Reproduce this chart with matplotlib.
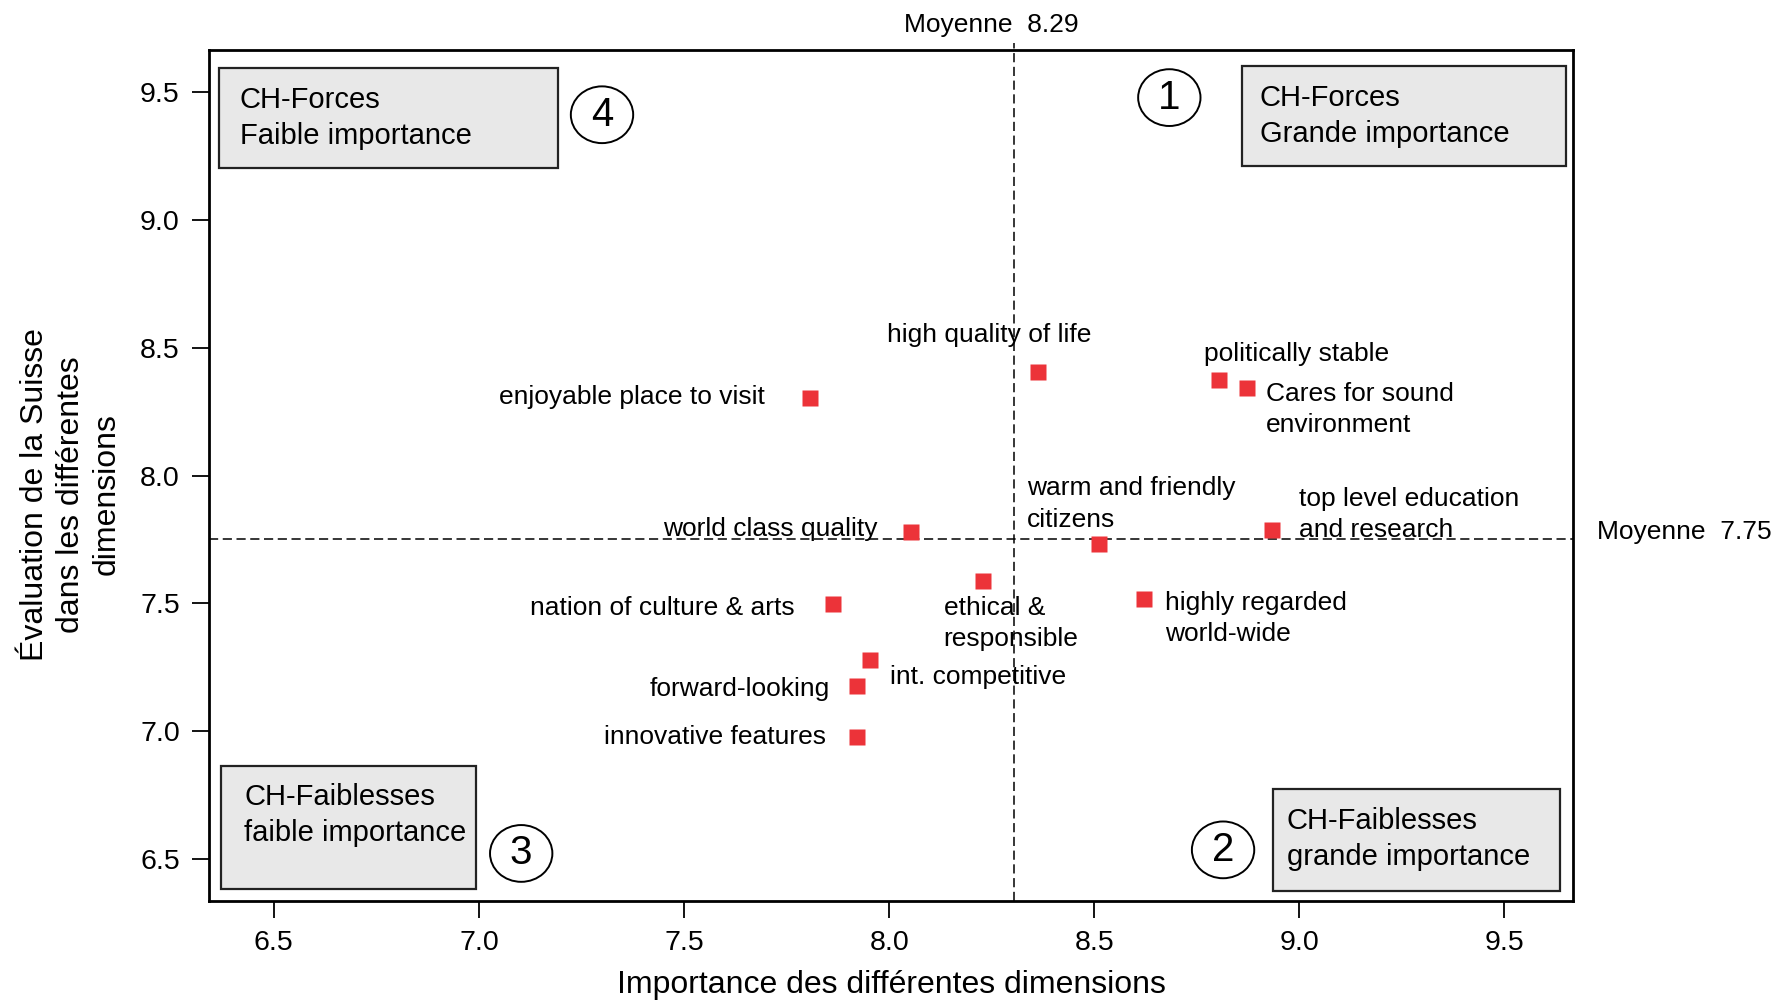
import matplotlib
matplotlib.use("Agg")
import matplotlib.pyplot as plt
from matplotlib.patches import Rectangle, Ellipse

plt.rcParams['font.family'] = ['Liberation Sans', 'DejaVu Sans']

# ---- data ----
labels = ["enjoyable place to visit", "high quality of life", "politically stable",
          "Cares for sound\nenvironment", "top level education\nand research",
          "warm and friendly\ncitizens", "world class quality", "ethical &\nresponsible",
          "highly regarded\nworld-wide", "nation of culture & arts", "int. competitive",
          "forward-looking", "innovative features"]
importance = [7.806, 8.364, 8.803, 8.872, 8.933, 8.511, 8.053, 8.228, 8.622, 7.864, 7.953, 7.922, 7.922]
evaluation = [8.302, 8.404, 8.373, 8.342, 7.787, 7.733, 7.778, 7.589, 7.518, 7.496, 7.278, 7.176, 6.976]

mean_importance = 8.305
mean_evaluation = 7.75
mean_importance_label = "Moyenne  8.29"
mean_evaluation_label = "Moyenne  7.75"

xticks = [6.5, 7.0, 7.5, 8.0, 8.5, 9.0, 9.5]
yticks = [6.5, 7.0, 7.5, 8.0, 8.5, 9.0, 9.5]

# label placement (text anchor, alignment)
label_pos = [
    (7.697, 8.307, 'right'),
    (7.994, 8.551, 'left'),
    (8.767, 8.476, 'left'),
    (8.919, 8.258, 'left'),
    (9.000, 7.849, 'left'),
    (8.336, 7.889, 'left'),
    (7.972, 7.791, 'right'),
    (8.133, 7.422, 'left'),
    (8.672, 7.442, 'left'),
    (7.769, 7.483, 'right'),
    (8.003, 7.211, 'left'),
    (7.856, 7.167, 'right'),
    (7.847, 6.978, 'right'),
]

quadrant_texts = ["CH-Forces\nGrande importance", "CH-Faiblesses\ngrande importance",
                  "CH-Faiblesses\nfaible importance", "CH-Forces\nFaible importance"]
quadrant_numbers = ["1", "2", "3", "4"]
quad_boxes = [(8.861, 9.211, 9.650, 9.602), (8.936, 6.376, 9.636, 6.773),
              (6.372, 6.384, 6.994, 6.864), (6.367, 9.202, 7.192, 9.593)]
quad_text_xy = [(8.903, 9.405), (8.969, 6.578), (6.428, 6.672), (6.417, 9.400)]
circle_xy = [(8.683, 9.478), (8.814, 6.536), (7.103, 6.522), (7.300, 9.411)]

fig = plt.figure(figsize=(17.82, 10.01), dpi=100)
ax = fig.add_axes([0.1173, 0.0999, 0.7654, 0.8501])
ax.set_xlim(6.342, 9.667)
ax.set_ylim(6.336, 9.664)

for s in ax.spines.values():
    s.set_linewidth(2.0)
    s.set_color('black')

ax.set_xticks(xticks)
ax.set_yticks(yticks)
ax.set_xticklabels([f"{v:.1f}" for v in xticks])
ax.set_yticklabels([f"{v:.1f}" for v in yticks])
ax.tick_params(direction='out', length=12, width=1.3, labelsize=20.5, pad=9)

ax.set_xlabel("Importance des différentes dimensions", fontsize=23, labelpad=10)
ax.set_ylabel("Évaluation de la Suisse\ndans les différentes\ndimensions", fontsize=23,
              linespacing=1.25)
ax.yaxis.set_label_coords(-0.064, 0.478)

# mean lines
ax.plot([mean_importance, mean_importance], [ax.get_ylim()[0], 9.69], color='black',
        lw=1.1, ls=(0, (6, 3)), clip_on=False, zorder=1)
ax.axhline(mean_evaluation, color='black', lw=1.1, ls=(0, (6, 3)), zorder=1)
ax.text(8.25, 9.715, mean_importance_label, fontsize=19, ha='center', va='bottom')
ax.text(9.725, 7.78, mean_evaluation_label, fontsize=19, ha='left', va='center',
        clip_on=False)

# points
ax.plot(importance, evaluation, 's', color='#EC3339', ms=11.5, mec='none', zorder=3)
for lab, (tx, ty, ha) in zip(labels, label_pos):
    ax.text(tx, ty, lab, fontsize=19, ha=ha, va='center', linespacing=1.38, zorder=4)

# quadrant boxes
for txt, num, (x0, y0, x1, y1), (tx, ty), (cx, cy) in zip(quadrant_texts, quadrant_numbers,
                                                           quad_boxes, quad_text_xy, circle_xy):
    ax.add_patch(Rectangle((x0, y0), x1 - x0, y1 - y0, facecolor='#E8E8E8',
                           edgecolor='#222222', lw=1.6, zorder=2))
    ax.text(tx, ty, txt, fontsize=21, ha='left', va='center', linespacing=1.36, zorder=3)
    ax.add_patch(Ellipse((cx, cy), 0.152, 0.222, facecolor='white', edgecolor='black',
                         lw=1.4, zorder=2))
    ax.text(cx, cy, num, fontsize=29, ha='center', va='center', zorder=3)

fig.savefig("out.png", dpi=100)
